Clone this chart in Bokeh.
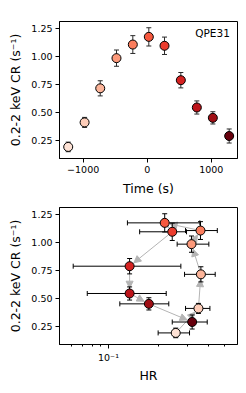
import math
from bokeh.plotting import figure
from bokeh.models import (ColumnDataSource, Range1d, FixedTicker, Whisker, TeeHead,
                          Arrow, NormalHead, Label, CustomJSTickFormatter, PrintfTickFormatter)
from bokeh.layouts import column
from bokeh.embed import file_html
from bokeh.resources import INLINE

# ---------------- data ----------------
time_s = [-1234, -978, -734, -480, -225, 25, 270, 525, 775, 1025, 1280]
count_rate = [0.19, 0.41, 0.716, 0.987, 1.109, 1.178, 1.098, 0.789, 0.544, 0.451, 0.288]
cr_err = [0.043, 0.045, 0.068, 0.073, 0.08, 0.082, 0.078, 0.069, 0.059, 0.055, 0.063]
hr = [0.254, 0.348, 0.360, 0.316, 0.358, 0.218, 0.242, 0.134, 0.134, 0.175, 0.319]
hr_low = [0.199, 0.291, 0.287, 0.259, 0.291, 0.130, 0.154, 0.0613, 0.0745, 0.117, 0.242]
hr_high = [0.3075, 0.408, 0.439, 0.402, 0.452, 0.355, 0.295, 0.2727, 0.2226, 0.2307, 0.393]
colors = ["#fee2d5", "#fdcdb9", "#fcb499", "#fc997a", "#fb7d5d", "#f6583e",
          "#eb3c2d", "#d52221", "#bc141a", "#9f0e14", "#67000d"]
cr_ticks = [0.25, 0.5, 0.75, 1.0, 1.25]
time_ticks = [-1000, 0, 1000]
hr_major_ticks = [0.1]
hr_minor_ticks = [0.06, 0.07, 0.08, 0.09, 0.2, 0.3, 0.4, 0.5]
source_label = "QPE31"
y_label = "0.2-2 keV CR (s⁻¹)"

FONT = "DejaVu Sans"
W = 244
LEFT = 59
RIGHT = W - 237
FRAME_W = W - LEFT - RIGHT
FRAME_H = 142
Y_RANGE = (0.086, 1.316)
T_RANGE = (-1370, 1410)
HR_RANGE = (0.0507, 0.598)

cr_lo = [c - e for c, e in zip(count_rate, cr_err)]
cr_hi = [c + e for c, e in zip(count_rate, cr_err)]

src = ColumnDataSource(dict(t=time_s, cr=count_rate, lo=cr_lo, hi=cr_hi,
                            hr=hr, hlo=hr_low, hhi=hr_high, color=colors))


def style(p):
    p.outline_line_color = "black"
    p.outline_line_width = 1
    p.xgrid.visible = False
    p.ygrid.visible = False
    for ax in (p.xaxis[0], p.yaxis[0]):
        ax.axis_line_color = "black"
        ax.major_tick_line_color = "black"
        ax.minor_tick_line_color = "black"
        ax.major_tick_in = 0
        ax.major_tick_out = 4
        ax.minor_tick_in = 0
        ax.minor_tick_out = 2
        ax.major_label_text_font = FONT
        ax.major_label_text_font_size = "9.5px"
        ax.major_label_text_color = "black"
        ax.axis_label_text_font = FONT
        ax.axis_label_text_font_size = "12.5px"
        ax.axis_label_text_font_style = "normal"
        ax.axis_label_text_color = "black"
        ax.major_label_standoff = 3
        ax.axis_label_standoff = 5
    p.yaxis[0].ticker = FixedTicker(ticks=cr_ticks)
    p.yaxis[0].formatter = PrintfTickFormatter(format="%.2f")
    p.yaxis[0].axis_label = y_label


# ---------------- top panel ----------------
H1 = 198
p1 = figure(width=W, height=H1, output_backend="svg", toolbar_location=None,
            x_range=Range1d(*T_RANGE), y_range=Range1d(*Y_RANGE),
            min_border_left=LEFT, min_border_right=RIGHT,
            min_border_top=21, min_border_bottom=H1 - 21 - FRAME_H)
style(p1)
p1.xaxis[0].ticker = FixedTicker(ticks=time_ticks)
p1.xaxis[0].axis_label = "Time (s)"

p1.scatter("t", "cr", source=src, size=9, fill_color="color", line_color="black", line_width=1)
p1.add_layout(Whisker(source=src, base="t", lower="lo", upper="hi", dimension="height",
                      line_color="#2a2a2a", line_width=1,
                      upper_head=TeeHead(size=5, line_color="#2a2a2a", line_width=1),
                      lower_head=TeeHead(size=5, line_color="#2a2a2a", line_width=1)))
p1.add_layout(Label(x=1290, y=1.21, text=source_label, text_align="right", text_baseline="middle",
                    text_font=FONT, text_font_size="10.5px", text_color="black"))

# ---------------- bottom panel ----------------
H2 = 187
p2 = figure(width=W, height=H2, output_backend="svg", toolbar_location=None,
            x_axis_type="log",
            x_range=Range1d(*HR_RANGE), y_range=Range1d(*Y_RANGE),
            min_border_left=LEFT, min_border_right=RIGHT,
            min_border_top=9, min_border_bottom=H2 - 9 - FRAME_H)
style(p2)
p2.xaxis[0].ticker = FixedTicker(ticks=hr_major_ticks, minor_ticks=hr_minor_ticks)
p2.xaxis[0].formatter = CustomJSTickFormatter(code="return '10\u207b\u00b9';")
p2.xaxis[0].axis_label = "HR"
p2.xaxis[0].axis_label_standoff = 2

# arrows between consecutive points, shrunk in screen space
px_dec = FRAME_W / (math.log10(HR_RANGE[1]) - math.log10(HR_RANGE[0]))
px_y = FRAME_H / (Y_RANGE[1] - Y_RANGE[0])
shrink0, shrink1 = 5.0, 5.5
xs, ys, xe, ye = [], [], [], []
for i in range(len(hr) - 1):
    lx0, lx1 = math.log10(hr[i]), math.log10(hr[i + 1])
    y0, y1 = count_rate[i], count_rate[i + 1]
    dx = (lx1 - lx0) * px_dec
    dy = (y1 - y0) * px_y
    L = math.hypot(dx, dy)
    if L < 1e-9:
        continue
    ux, uy = dx / L, dy / L
    xs.append(10 ** (lx0 + ux * shrink0 / px_dec))
    ys.append(y0 + uy * shrink0 / px_y)
    xe.append(10 ** (lx1 - ux * shrink1 / px_dec))
    ye.append(y1 - uy * shrink1 / px_y)
arr_src = ColumnDataSource(dict(xs=xs, ys=ys, xe=xe, ye=ye))
p2.add_layout(Arrow(source=arr_src, x_start="xs", y_start="ys", x_end="xe", y_end="ye",
                    line_color="#b4b4b4", line_width=1, level="underlay",
                    end=NormalHead(size=7, fill_color="#b4b4b4", line_color="#b4b4b4", line_width=1)))

p2.scatter("hr", "cr", source=src, size=9, fill_color="color", line_color="black", line_width=1)
p2.add_layout(Whisker(source=src, base="hr", lower="lo", upper="hi", dimension="height",
                      line_color="black", line_width=1,
                      upper_head=TeeHead(size=5, line_color="black", line_width=1),
                      lower_head=TeeHead(size=5, line_color="black", line_width=1)))
p2.add_layout(Whisker(source=src, base="cr", lower="hlo", upper="hhi", dimension="width",
                      line_color="black", line_width=1,
                      upper_head=TeeHead(size=5, line_color="black", line_width=1),
                      lower_head=TeeHead(size=5, line_color="black", line_width=1)))

layout = column(p1, p2, spacing=0)
open("out.html", "w").write(file_html(layout, INLINE))
